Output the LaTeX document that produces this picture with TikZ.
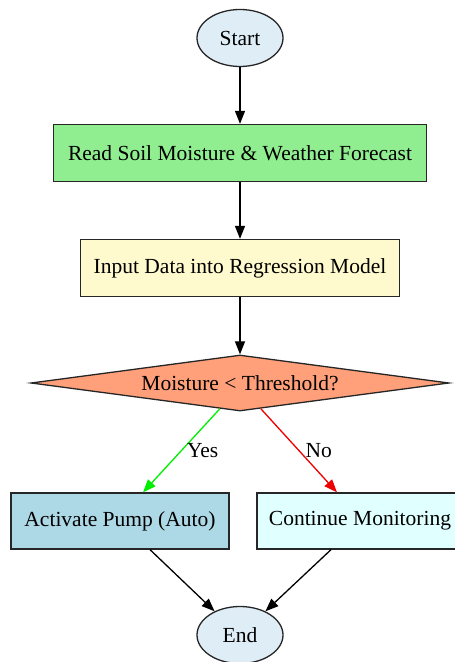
\documentclass[tikz,border=0pt]{standalone}
\usepackage{fontspec}
\setmainfont{Liberation Serif}
\usetikzlibrary{shapes.geometric,arrows.meta,calc}
\definecolor{startfill}{HTML}{DFEEF6}
\definecolor{readfill}{HTML}{90EE90}
\definecolor{inputfill}{HTML}{FFFACD}
\definecolor{decfill}{HTML}{FFA07A}
\definecolor{actfill}{HTML}{ADD8E6}
\definecolor{contfill}{HTML}{E0FFFF}
\definecolor{edgegreen}{HTML}{00EE00}
\definecolor{edgered}{HTML}{EE0000}
\tikzset{
  base/.style={draw=black!85, line width=1.3pt, font=\fontsize{21.5}{24}\selectfont, inner sep=0pt},
  term/.style={base, ellipse, minimum width=86pt, minimum height=57pt},
  proc/.style={base, rectangle, minimum height=57pt},
  dec/.style={base, diamond, aspect=7.46, minimum width=418pt, minimum height=56pt},
  conn/.style={line width=1.3pt, -{Triangle[length=13pt,width=10pt]}},
  lbl/.style={font=\fontsize{21.5}{24}\selectfont, inner sep=0pt, anchor=west}
}
\begin{document}
\begin{tikzpicture}[x=1pt,y=1pt]
\useasboundingbox (0,0) rectangle (455,662);
\node[term, fill=startfill] (start) at (240,624) {Start};
\node[proc, fill=readfill, minimum width=373pt] (read) at (240,509) {Read Soil Moisture \& Weather Forecast};
\node[proc, fill=inputfill, minimum width=319pt] (input) at (240,394) {Input Data into Regression Model};
\node[dec, fill=decfill] (dec) at (240,279) {Moisture < Threshold?};
\node[proc, fill=actfill, minimum width=218pt, minimum height=56pt] (act) at (120,141) {Activate Pump (Auto)};
\node[proc, fill=contfill, minimum width=206pt, minimum height=56pt] (cont) at (360,141) {Continue Monitoring};
\node[term, fill=startfill] (end) at (240,27) {End};
\draw[conn] (start) -- (read);
\draw[conn] (read) -- (input);
\draw[conn] (input) -- (dec);
\draw[conn, draw=edgegreen, -{Triangle[length=13pt,width=10pt,fill=edgegreen]}] (dec.232) -- node[lbl, pos=0.5, xshift=5pt] (yes) {Yes} ($(act.north)+(23,0)$);
\draw[conn, draw=edgered, -{Triangle[length=13pt,width=10pt,fill=edgered]}] (dec.-51) -- node[lbl, pos=0.5, xshift=6pt] (no) {No} ($(cont.north)+(-23,0)$);
\draw[conn] ($(act.south)+(30,0)$) -- (end.137);
\draw[conn] ($(cont.south)+(-29,0)$) -- (end.43);
\end{tikzpicture}
\end{document}
